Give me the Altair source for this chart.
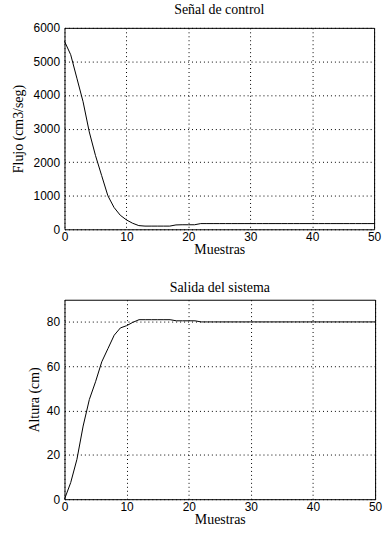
import altair as alt
import pandas as pd

muestras = list(range(0, 51))

flujo = [5600, 5200, 4500, 3800, 2900, 2200, 1600, 1000, 650, 420,
         280, 180, 110, 95, 95, 95, 95, 95, 130, 135,
         135, 135, 170] + [170] * 28

altura = [0, 7.5, 18, 33, 45, 53, 62, 68, 74, 77.3,
          78.3, 79.8, 81, 81, 81, 81, 81, 81, 80.5, 80.5,
          80.5, 80.5, 80] + [80] * 28

df1 = pd.DataFrame({"Muestras": muestras, "Flujo": flujo})
df2 = pd.DataFrame({"Muestras": muestras, "Altura": altura})

serif = "Liberation Serif"
sans = "Liberation Sans"

def axis_x():
    return alt.Axis(title="Muestras", values=[0, 10, 20, 30, 40, 50], grid=True,
                    gridColor="black", gridDash=[1, 3], gridOpacity=1,
                    domain=False, ticks=False, labelFont=sans, labelFontSize=12,
                    labelColor="black", labelPadding=2, titleFont=serif,
                    titleFontSize=14, titleFontWeight="normal", titleColor="black",
                    titlePadding=0, labelFlush=False, format="d")

def axis_y(title, vals, pad):
    return alt.Axis(title=title, values=vals, grid=True, gridColor="black",
                    gridDash=[1, 3], gridOpacity=1, domain=False, ticks=False,
                    labelFont=sans, labelFontSize=12, labelColor="black",
                    labelPadding=5, titleFont=serif, titleFontSize=14,
                    titleFontWeight="normal", titleColor="black", titlePadding=pad,
                    format="d")

top = alt.Chart(df1).mark_line(color="black", strokeWidth=1).encode(
    x=alt.X("Muestras:Q", scale=alt.Scale(domain=[0, 50], nice=False), axis=axis_x()),
    y=alt.Y("Flujo:Q", scale=alt.Scale(domain=[0, 6000], nice=False),
            axis=axis_y("Flujo (cm3/seg)", [0, 1000, 2000, 3000, 4000, 5000, 6000], 8)),
).properties(width=312, height=203,
             title=alt.TitleParams("Señal de control", font=serif, fontSize=14,
                                   fontWeight="normal", color="black", offset=5))

bottom = alt.Chart(df2).mark_line(color="black", strokeWidth=1).encode(
    x=alt.X("Muestras:Q", scale=alt.Scale(domain=[0, 50], nice=False), axis=axis_x()),
    y=alt.Y("Altura:Q", scale=alt.Scale(domain=[0, 90], nice=False),
            axis=axis_y("Altura (cm)", [0, 20, 40, 60, 80], 5)),
).properties(width=313, height=201,
             title=alt.TitleParams("Salida del sistema", font=serif, fontSize=14,
                                   fontWeight="normal", color="black", offset=5))

chart = alt.vconcat(top, bottom, spacing=23).properties(
    padding={"left": 10, "top": 0, "right": 5, "bottom": 5},
    background="white",
).configure_view(stroke="black", strokeWidth=1)

chart.save("out.html", embed_options={"renderer": "svg", "actions": False})
